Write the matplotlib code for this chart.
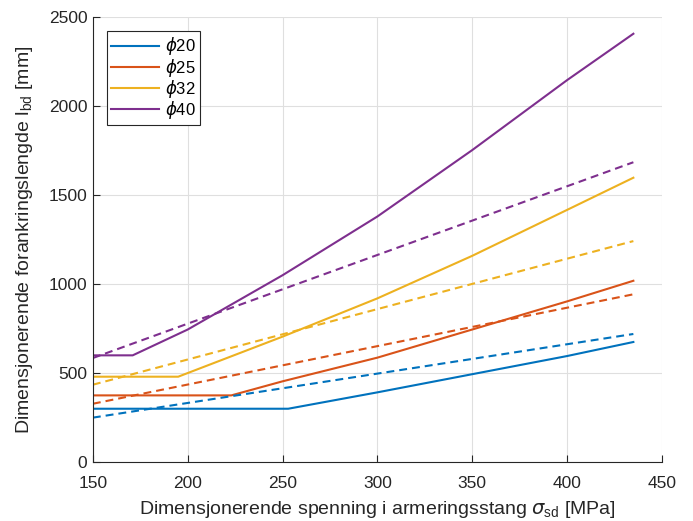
import matplotlib
matplotlib.use("Agg")
import matplotlib.pyplot as plt

plt.rcParams['font.family'] = ['Liberation Sans', 'DejaVu Sans']
plt.rcParams['mathtext.fontset'] = 'dejavusans'

# MATLAB default line colours
colors = ['#0072BD', '#D95319', '#EDB120', '#7E2F8E']
labels = [r'$\phi$20', r'$\phi$25', r'$\phi$32', r'$\phi$40']

# design anchorage length (solid), flat at the minimum length before the bend
sigma_20 = [150, 253, 300, 350, 400, 435]
lbd_20 = [300, 300, 392, 494, 596, 675]
sigma_25 = [150, 223, 250, 300, 350, 400, 435]
lbd_25 = [375, 375, 454, 587, 745, 903, 1019]
sigma_32 = [150, 195, 250, 300, 350, 400, 435]
lbd_32 = [480, 480, 705, 920, 1159, 1417, 1598]
sigma_40 = [150, 171, 200, 250, 300, 350, 400, 435]
lbd_40 = [600, 600, 745, 1050, 1380, 1753, 2146, 2407]

# basic required anchorage length (dashed)
sigma_rqd = [150, 435]
lrqd_20 = [250, 720]
lrqd_25 = [328, 943]
lrqd_32 = [435, 1242]
lrqd_40 = [585, 1685]

solid = [(sigma_20, lbd_20), (sigma_25, lbd_25), (sigma_32, lbd_32), (sigma_40, lbd_40)]
dashed = [lrqd_20, lrqd_25, lrqd_32, lrqd_40]

fig = plt.figure(figsize=(6.93, 5.21), dpi=100)
ax = fig.add_axes([0.134, 0.113, 0.821, 0.854])

for (s, l), c, lab in zip(solid, colors, labels):
    ax.plot(s, l, color=c, lw=1.5, label=lab)
for l, c in zip(dashed, colors):
    ax.plot(sigma_rqd, l, color=c, lw=1.5, ls=(0, (3.8, 2.4)))

ax.set_xlim(150, 450)
ax.set_ylim(0, 2500)
ax.set_xticks(range(150, 451, 50))
ax.set_yticks(range(0, 2501, 500))

ax.grid(True, color='#dfdfdf', lw=0.8)
ax.set_axisbelow(True)
for side in ['top', 'right']:
    ax.spines[side].set_visible(False)
for side in ['left', 'bottom']:
    ax.spines[side].set_color('#262626')
    ax.spines[side].set_linewidth(0.8)
ax.tick_params(direction='in', length=5, width=0.8, colors='#262626',
               labelsize=12.5, labelcolor='#262626')
ax.tick_params(axis='x', pad=10)
ax.tick_params(axis='y', pad=4)

ax.set_xlabel(r'Dimensjonerende spenning i armeringsstang $\sigma_{\mathregular{sd}}$ [MPa]',
              fontsize=14, color='#262626', labelpad=6)
ax.set_ylabel(r'Dimensjonerende forankringslengde l$_{\mathregular{bd}}$ [mm]',
              fontsize=14, color='#262626', labelpad=10)

leg = ax.legend(loc='upper left', bbox_to_anchor=(0.0246, 0.9685), borderaxespad=0,
                fontsize=12, handlelength=2.9, handletextpad=0.36,
                fancybox=False, framealpha=1, edgecolor='#262626',
                borderpad=0.25, labelspacing=-0.05)
leg.get_frame().set_linewidth(0.8)

fig.savefig('out.png', dpi=100)
